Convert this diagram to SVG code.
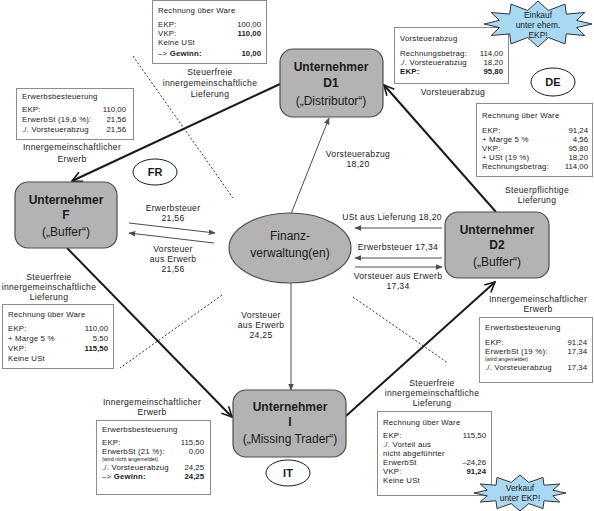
<svg xmlns="http://www.w3.org/2000/svg" width="594" height="511" viewBox="0 0 594 511">
<style>
text{font-family:"Liberation Sans",Arial,sans-serif;fill:#1a1a1a}
.node rect,.node ellipse.big{fill:#b3b3b3;stroke:#4d4d4d;stroke-width:1.2}
.nt{font-size:12px;text-anchor:middle}
.b{font-weight:bold}
.box{fill:#fff;stroke:#8c8c8c;stroke-width:1}
.bt{font-size:7.8px;letter-spacing:0.2px}
.r{text-anchor:end;letter-spacing:0}
.sm{font-size:5.4px}
.lbl{font-size:8.6px;letter-spacing:0.3px;text-anchor:middle}
.thick{stroke:#1a1a1a;stroke-width:2;fill:none}
.thin{stroke:#4d4d4d;stroke-width:1;fill:none}
.dot{stroke:#333;stroke-width:1;stroke-dasharray:2 2;fill:none}
.cc{fill:#fff;stroke:#1a1a1a;stroke-width:1}
.cct{font-size:11px;font-weight:bold;text-anchor:middle}
.star{fill:#a9d9f2;stroke:#333;stroke-width:1}
.st{font-size:8.4px;text-anchor:middle}
</style>
<defs>
<marker id="open" viewBox="0 0 12 12" refX="11" refY="6" markerWidth="12" markerHeight="12" markerUnits="userSpaceOnUse" orient="auto">
<path d="M1,1 L11,6 L1,11" fill="none" stroke="#1a1a1a" stroke-width="1.6"/>
</marker>
<marker id="tri" viewBox="0 0 10 10" refX="9" refY="5" markerWidth="7" markerHeight="7" markerUnits="userSpaceOnUse" orient="auto">
<path d="M0,1 L10,5 L0,9 Z" fill="#4d4d4d"/>
</marker>
</defs>

<g id="borders">
<line class="dot" x1="133" y1="56" x2="233" y2="198"/>
<line class="dot" x1="222" y1="295" x2="120" y2="368"/>
<line class="dot" x1="353" y1="297" x2="448" y2="363"/>
</g>

<g id="connectors">
<line class="thick" x1="280" y1="84" x2="72" y2="181" marker-end="url(#open)"/>
<line class="thick" x1="67" y1="248" x2="232" y2="417" marker-end="url(#open)"/>
<line class="thick" x1="346" y1="416" x2="495" y2="282" marker-end="url(#open)"/>
<line class="thick" x1="496" y1="212" x2="384" y2="85" marker-end="url(#open)"/>
<line class="thin" x1="291" y1="214" x2="329" y2="118" marker-end="url(#tri)"/>
<line class="thin" x1="129" y1="223" x2="215" y2="233" marker-end="url(#tri)"/>
<line class="thin" x1="214" y1="243" x2="129" y2="233" marker-end="url(#tri)"/>
<line class="thin" x1="442" y1="228" x2="355" y2="228" marker-end="url(#tri)"/>
<line class="thin" x1="442" y1="258" x2="355" y2="258" marker-end="url(#tri)"/>
<line class="thin" x1="355" y1="267" x2="442" y2="267" marker-end="url(#tri)"/>
<line class="thin" x1="291" y1="283" x2="291" y2="390" stroke="#666" stroke-width="1.3" marker-end="url(#tri)"/>
</g>

<g id="connector-labels">
<text class="lbl" x="210" y="75">Steuerfreie</text>
<text class="lbl" x="210" y="86">innergemeinschaftliche</text>
<text class="lbl" x="210" y="97">Lieferung</text>
<text class="lbl" x="72" y="150">Innergemeinschaftlicher</text>
<text class="lbl" x="72" y="162">Erwerb</text>
<text class="lbl" x="453" y="95">Vorsteuerabzug</text>
<text class="lbl" x="358" y="157">Vorsteuerabzug</text>
<text class="lbl" x="358" y="167">18,20</text>
<text class="lbl" x="537" y="193">Steuerpflichtige</text>
<text class="lbl" x="537" y="203">Lieferung</text>
<text class="lbl" x="173" y="211">Erwerbsteuer</text>
<text class="lbl" x="173" y="221">21,56</text>
<text class="lbl" x="173" y="252">Vorsteuer</text>
<text class="lbl" x="173" y="262">aus Erwerb</text>
<text class="lbl" x="173" y="272">21,56</text>
<text class="lbl" x="392" y="220">USt aus Lieferung 18,20</text>
<text class="lbl" x="398" y="250">Erwerbsteuer 17,34</text>
<text class="lbl" x="398" y="279">Vorsteuer aus Erwerb</text>
<text class="lbl" x="398" y="289">17,34</text>
<text class="lbl" x="49" y="280">Steuerfreie</text>
<text class="lbl" x="49" y="290">innergemeinschaftliche</text>
<text class="lbl" x="49" y="300">Lieferung</text>
<text class="lbl" x="538" y="302">Innergemeinschaftlicher</text>
<text class="lbl" x="538" y="312">Erwerb</text>
<text class="lbl" x="261" y="318">Vorsteuer</text>
<text class="lbl" x="261" y="328">aus Erwerb</text>
<text class="lbl" x="261" y="338">24,25</text>
<text class="lbl" x="432" y="386">Steuerfreie</text>
<text class="lbl" x="432" y="396">innergemeinschaftliche</text>
<text class="lbl" x="432" y="406">Lieferung</text>
<text class="lbl" x="152" y="405">Innergemeinschaftlicher</text>
<text class="lbl" x="152" y="415">Erwerb</text>
</g>

<g id="node-d1" class="node">
<rect x="280" y="49" width="103" height="68" rx="13"/>
<text class="nt b" x="331" y="71">Unternehmer</text>
<text class="nt b" x="331" y="87">D1</text>
<text class="nt" x="331" y="105">(„Distributor“)</text>
</g>
<g id="node-f" class="node">
<rect x="15" y="182" width="102" height="66" rx="13"/>
<text class="nt b" x="66" y="204">Unternehmer</text>
<text class="nt b" x="66" y="219">F</text>
<text class="nt" x="66" y="236">(„Buffer“)</text>
</g>
<g id="node-fv" class="node">
<ellipse class="big" cx="290" cy="248" rx="61" ry="35"/>
<text class="nt" x="290" y="240">Finanz-</text>
<text class="nt" x="290" y="257">verwaltung(en)</text>
</g>
<g id="node-d2" class="node">
<rect x="445" y="212" width="104" height="66" rx="13"/>
<text class="nt b" x="497" y="234">Unternehmer</text>
<text class="nt b" x="497" y="249">D2</text>
<text class="nt" x="497" y="266">(„Buffer“)</text>
</g>
<g id="node-i" class="node">
<rect x="233" y="390" width="113" height="67" rx="13"/>
<text class="nt b" x="290" y="411">Unternehmer</text>
<text class="nt b" x="290" y="426">I</text>
<text class="nt" x="290" y="443">(„Missing Trader“)</text>
</g>

<g id="country-fr"><ellipse class="cc" cx="155" cy="172" rx="22" ry="13"/><text class="cct" x="155" y="176">FR</text></g>
<g id="country-de"><ellipse class="cc" cx="553" cy="82" rx="22" ry="14"/><text class="cct" x="553" y="86">DE</text></g>
<g id="country-it"><ellipse class="cc" cx="288" cy="473" rx="22" ry="13"/><text class="cct" x="288" y="477">IT</text></g>

<g id="box-d1-invoice">
<rect class="box" x="152.5" y="0.5" width="114" height="63"/>
<text class="bt" x="158" y="13">Rechnung über Ware</text>
<text class="bt" x="158" y="27">EKP:</text><text class="bt r" x="261" y="27">100,00</text>
<text class="bt" x="158" y="36">VKP:</text><text class="bt r b" x="261" y="36">110,00</text>
<text class="bt" x="158" y="45">Keine USt</text>
<text class="bt" x="158" y="56">–&gt; <tspan class="b">Gewinn:</tspan></text><text class="bt r b" x="261" y="56">10,00</text>
</g>

<g id="box-f-acq">
<rect class="box" x="16.5" y="88.5" width="117" height="51"/>
<text class="bt" x="22" y="99">Erwerbsbesteuerung</text>
<text class="bt" x="22" y="112">EKP:</text><text class="bt r" x="126" y="112">110,00</text>
<text class="bt" x="22" y="122">ErwerbSt (19,6 %):</text><text class="bt r" x="126" y="122">21,56</text>
<text class="bt" x="22" y="132">./. Vorsteuerabzug</text><text class="bt r" x="126" y="132">21,56</text>
</g>

<g id="box-d1-input">
<rect class="box" x="394.5" y="27.5" width="114" height="56"/>
<text class="bt" x="400" y="41">Vorsteuerabzug</text>
<text class="bt" x="400" y="56">Rechnungsbetrag:</text><text class="bt r" x="503" y="56">114,00</text>
<text class="bt" x="400" y="65">./. Vorsteuerabzug</text><text class="bt r" x="503" y="65">18,20</text>
<text class="bt b" x="400" y="74">EKP:</text><text class="bt r b" x="503" y="74">95,80</text>
</g>

<g id="box-d2-invoice">
<rect class="box" x="476.5" y="103.5" width="116" height="73"/>
<text class="bt" x="482" y="118">Rechnung über Ware</text>
<text class="bt" x="482" y="133">EKP:</text><text class="bt r" x="588" y="133">91,24</text>
<text class="bt" x="482" y="142">+ Marge 5 %</text><text class="bt r" x="588" y="142">4,56</text>
<text class="bt" x="482" y="151">VKP:</text><text class="bt r" x="588" y="151">95,80</text>
<text class="bt" x="482" y="160">+ USt (19 %)</text><text class="bt r" x="588" y="160">18,20</text>
<text class="bt" x="482" y="169">Rechnungsbetrag:</text><text class="bt r" x="588" y="169">114,00</text>
</g>

<g id="box-f-invoice">
<rect class="box" x="2.5" y="304.5" width="111" height="64"/>
<text class="bt" x="8" y="317">Rechnung über Ware</text>
<text class="bt" x="8" y="331">EKP:</text><text class="bt r" x="108" y="331">110,00</text>
<text class="bt" x="8" y="341">+ Marge 5 %</text><text class="bt r" x="108" y="341">5,50</text>
<text class="bt" x="8" y="351">VKP:</text><text class="bt r b" x="108" y="351">115,50</text>
<text class="bt" x="8" y="361">Keine USt</text>
</g>

<g id="box-d2-acq">
<rect class="box" x="479.5" y="317.5" width="113" height="65"/>
<text class="bt" x="485" y="330">Erwerbsbesteuerung</text>
<text class="bt" x="485" y="345">EKP:</text><text class="bt r" x="587" y="345">91,24</text>
<text class="bt" x="485" y="354">ErwerbSt (19 %):</text><text class="bt r" x="587" y="354">17,34</text>
<text class="sm" x="485" y="361">(wird angemeldet)</text>
<text class="bt" x="485" y="370">./. Vorsteuerabzug</text><text class="bt r" x="587" y="370">17,34</text>
</g>

<g id="box-i-acq">
<rect class="box" x="96.5" y="420.5" width="114" height="74"/>
<text class="bt" x="102" y="432">Erwerbsbesteuerung</text>
<text class="bt" x="102" y="445">EKP:</text><text class="bt r" x="204" y="445">115,50</text>
<text class="bt" x="102" y="454">ErwerbSt (21 %):</text><text class="bt r" x="204" y="454">0,00</text>
<text class="sm" x="102" y="461">(wird nicht angemeldet)</text>
<text class="bt" x="102" y="470">./. Vorsteuerabzug</text><text class="bt r" x="204" y="470">24,25</text>
<text class="bt" x="102" y="479">–&gt; <tspan class="b">Gewinn:</tspan></text><text class="bt r b" x="204" y="479">24,25</text>
</g>

<g id="box-i-invoice">
<rect class="box" x="377.5" y="411.5" width="114" height="84"/>
<text class="bt" x="383" y="425">Rechnung über Ware</text>
<text class="bt" x="383" y="438">EKP:</text><text class="bt r" x="486" y="438">115,50</text>
<text class="bt" x="383" y="447">./. Vorteil aus</text>
<text class="bt" x="383" y="456">nicht abgeführter</text>
<text class="bt" x="383" y="465">ErwerbSt</text><text class="bt r" x="486" y="465">–24,26</text>
<text class="bt" x="383" y="474">VKP:</text><text class="bt r b" x="486" y="474">91,24</text>
<text class="bt" x="383" y="483">Keine USt</text>
</g>

<g id="star-einkauf">
<polygon class="star" points="592,24 576.6,27.6 584.8,35.5 566.3,33.9 565,43.9 548.4,37.5 538,47 527.6,37.5 511,43.9 509.7,33.9 491.2,35.5 499.4,27.6 484,24 499.4,20.4 491.2,12.5 509.7,14.1 511,4.1 527.6,10.5 538,1 548.4,10.5 565,4.1 566.3,14.1 584.8,12.5 576.6,20.4"/>
<text class="st" x="538" y="18">Einkauf</text>
<text class="st" x="538" y="28">unter ehem.</text>
<text class="st" x="538" y="38">EKP!</text>
</g>

<g id="star-verkauf">
<polygon class="star" points="566,493 552.8,495.8 559.8,502 544,500.8 543,508.6 528.8,503.6 520,511 511.2,503.6 497,508.6 496,500.8 480.2,502 487.2,495.8 474,493 487.2,490.2 480.2,484 496,485.2 497,477.4 511.2,482.4 520,475 528.8,482.4 543,477.4 544,485.2 559.8,484 552.8,490.2"/>
<text class="st" x="520" y="491">Verkauf</text>
<text class="st" x="520" y="501">unter EKP!</text>
</g>
</svg>
